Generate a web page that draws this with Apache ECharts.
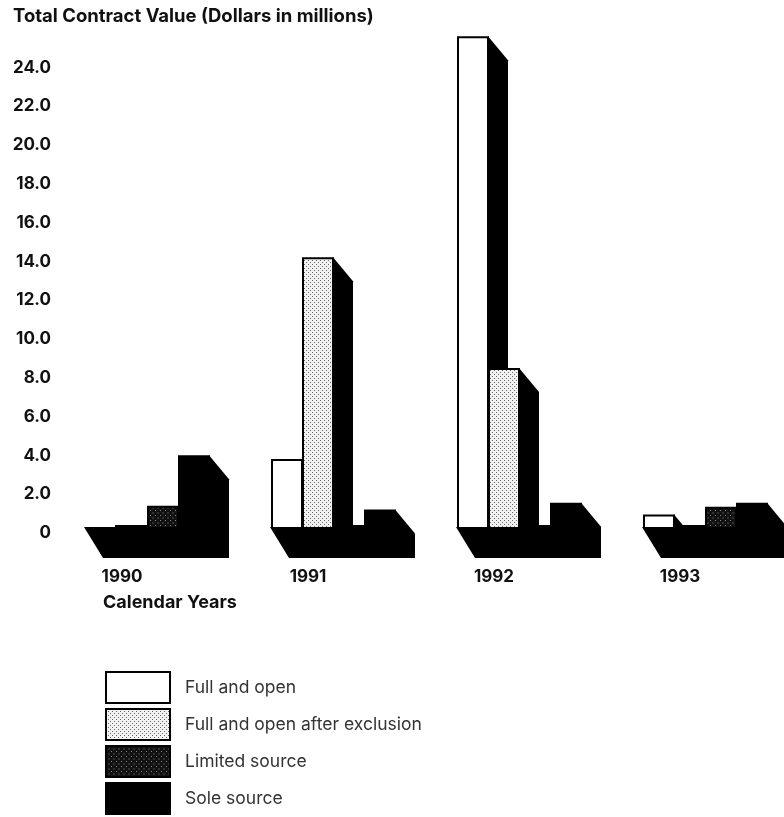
<!DOCTYPE html>
<html>
<head>
<meta charset="utf-8">
<title>Total Contract Value</title>
<style>
  html, body { margin: 0; padding: 0; background: #fff; }
  #chart { width: 784px; height: 817px; }
</style>
<script src="https://cdn.jsdelivr.net/npm/echarts@6/dist/echarts.min.js"></script>
</head>
<body>
<div id="chart"></div>
<script>
const years = ['1990', '1991', '1992', '1993'];
const yTicks = [0, 2, 4, 6, 8, 10, 12, 14, 16, 18, 20, 22, 24];
const fullOpen = [0, 3.5, 25.3, 0.65];
const fullOpenExcl = [0, 13.9, 8.2, 0];
const limitedSource = [1.1, 0.1, 0.1, 1.05];
const soleSource = [3.7, 0.9, 1.25, 1.25];
const seriesNames = ['Full and open', 'Full and open after exclusion', 'Limited source', 'Sole source'];

const FONT = 'Inter, "Liberation Sans", Arial, sans-serif';
const BAR_W = 31;      // front face width
const START = -37;     // first bar's left edge relative to the category centre
const DEPTH_X = 20;
const DEPTH_Y = 24;

// 点状填充
function dots(bg, dot, size, r) {
  const c = document.createElement('canvas');
  c.width = c.height = size;
  const ctx = c.getContext('2d');
  ctx.fillStyle = bg;
  ctx.fillRect(0, 0, size, size);
  ctx.fillStyle = dot;
  ctx.fillRect(0, 0, r, r);
  ctx.fillRect(size / 2, size / 2, r, r);
  return { image: c, repeat: 'repeat' };
}
const fills = [
  '#ffffff',
  dots('#f2f2f2', '#666666', 4, 1),
  dots('#111111', '#8a8a8a', 5, 1),
  '#000000'
];

function barRender(slot) {
  return function (params, api) {
    const v = api.value(1);
    const p = api.coord([api.value(0), v]);
    const base = api.coord([api.value(0), 0])[1];
    const x = p[0] + START + slot * BAR_W;
    const top = p[1];
    if (v <= 0) return null;
    return {
      type: 'group',
      children: [
        {
          type: 'polygon',
          shape: { points: [[x + BAR_W, top], [x + BAR_W + DEPTH_X, top + DEPTH_Y], [x + BAR_W + DEPTH_X, base + 28], [x + BAR_W, base + 28]] },
          style: { fill: '#000' }
        },
        {
          type: 'rect',
          shape: { x: x + 1, y: top + 1, width: BAR_W - 1, height: base - top },
          style: { fill: fills[slot], stroke: '#000', lineWidth: 2 }
        }
      ]
    };
  };
}

function floorRender(params, api) {
  const p = api.coord([api.value(0), 0]);
  const l = p[0] + START - 1;
  const r = l + 4 * BAR_W + 1;
  return {
    type: 'polygon',
    shape: { points: [[l, p[1]], [l + 19, p[1] + 31], [r + DEPTH_X, p[1] + 31], [r + DEPTH_X, p[1] + 8], [r, p[1] - 2], [l + 31, p[1] - 2], [l + 31, p[1]]] },
    style: { fill: '#000' }
  };
}

function toData(values) {
  return values.map(function (v, i) { return [i, v]; });
}

const chart = echarts.init(document.getElementById('chart'));
chart.setOption({
  animation: false,
  backgroundColor: '#fff',
  textStyle: { fontFamily: FONT },
  title: [
    {
      text: 'Total Contract Value (Dollars in millions)',
      left: 13, top: 7, padding: 0,
      textStyle: { fontFamily: FONT, fontSize: 18.5, fontWeight: 'bold', color: '#111' }
    },
    {
      text: 'Calendar Years',
      left: 103, top: 594, padding: 0,
      textStyle: { fontFamily: FONT, fontSize: 18, fontWeight: 'bold', color: '#111' }
    }
  ],
  grid: { left: 29, width: 744, top: 61.4, height: 465.6, outerBoundsMode: 'none' },
  xAxis: {
    type: 'category',
    data: years,
    axisLine: { show: false },
    axisTick: { show: false },
    axisLabel: { margin: 41, fontFamily: FONT, fontSize: 17, fontWeight: 'bold', color: '#111' }
  },
  yAxis: {
    type: 'value',
    min: yTicks[0],
    max: yTicks[yTicks.length - 1],
    interval: 2,
    splitLine: { show: false },
    axisLine: { show: false },
    axisTick: { show: false },
    axisLabel: {
      inside: true,
      align: 'right',
      verticalAlign: 'top',
      lineHeight: 12,
      margin: 22,
      fontFamily: FONT, fontSize: 17, fontWeight: 'bold', color: '#111',
      formatter: function (v) { return v === 0 ? '0' : v.toFixed(1); }
    }
  },
  legend: {
    orient: 'vertical',
    left: 105, top: 671, padding: 0,
    height: 180,
    itemWidth: 64, itemHeight: 31, itemGap: 4,
    icon: 'rect',
    selectedMode: false,
    textStyle: { fontFamily: FONT, fontSize: 17.5, color: '#333', padding: [0, 0, 0, 10] },
    data: seriesNames.map(function (n, i) {
      return { name: n, itemStyle: { color: fills[i], borderColor: '#000', borderWidth: 2 } };
    })
  },
  series: [
    { type: 'custom', renderItem: floorRender, data: toData(years.map(function () { return 0; })), silent: true },
    { type: 'custom', name: seriesNames[0], renderItem: barRender(0), data: toData(fullOpen) },
    { type: 'custom', name: seriesNames[1], renderItem: barRender(1), data: toData(fullOpenExcl) },
    { type: 'custom', name: seriesNames[2], renderItem: barRender(2), data: toData(limitedSource) },
    { type: 'custom', name: seriesNames[3], renderItem: barRender(3), data: toData(soleSource) }
  ]
});
</script>
</body>
</html>
